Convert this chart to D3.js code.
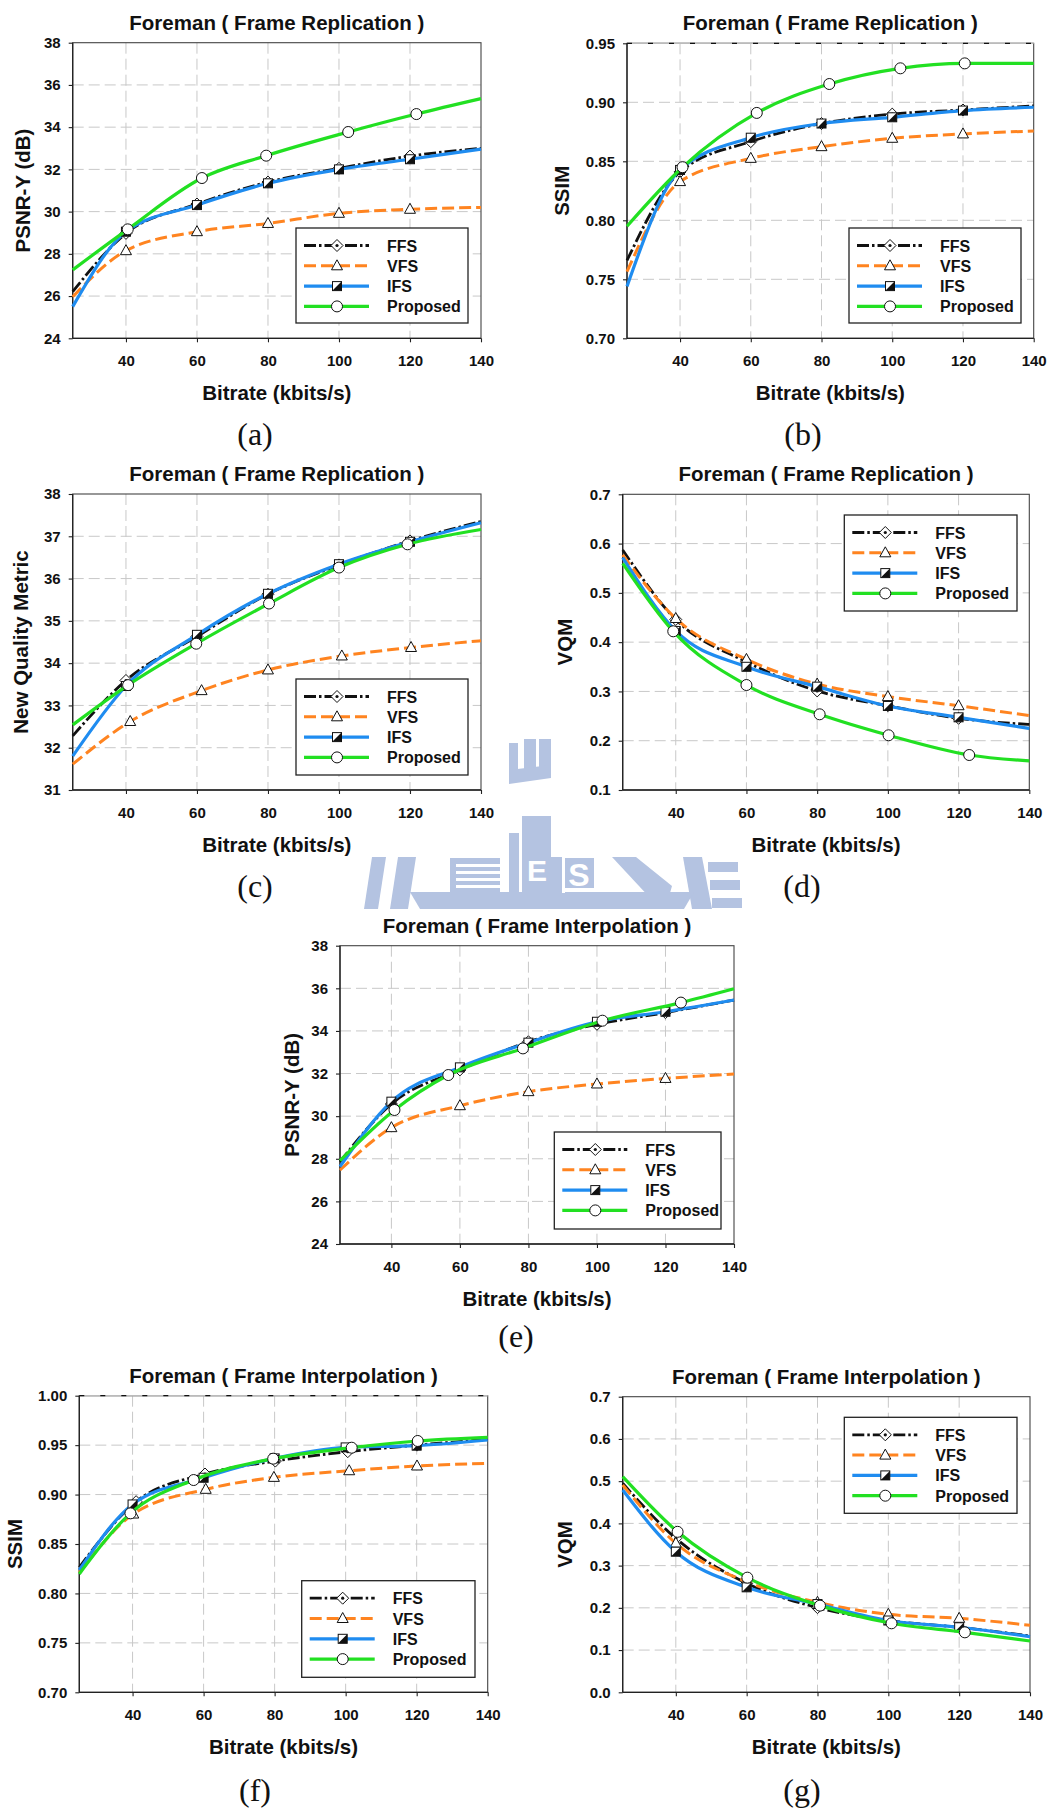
<!DOCTYPE html>
<html>
<head>
<meta charset="utf-8">
<script src="https://cdn.jsdelivr.net/npm/d3@7"></script>
<style>
    body { margin: 0; background: #fff; }
    svg text { font-family: 'Liberation Sans', Arial, sans-serif; }
</style>
</head>
<body>
<svg id="page"></svg>
<script>
// ---- Data ----
const bitrate = [25, 40, 60, 80, 100, 120, 140];
const xTicks = [40, 60, 80, 100, 120, 140];
const seriesNames = ['FFS', 'VFS', 'IFS', 'Proposed'];

// (a) Frame Replication, PSNR-Y
const repPsnrFFS = [26.21, 28.97, 30.36, 31.40, 32.05, 32.63, 33.00];
const repPsnrVFS = [25.97, 28.15, 29.05, 29.44, 29.92, 30.11, 30.20];
const repPsnrIFS = [25.50, 29.05, 30.31, 31.34, 32.00, 32.48, 32.96];
const repPsnrProp = [27.24, 29.16, 31.59, 32.65, 33.77, 34.62, 35.35];
const repPsnrPropX = [25, 40.5, 61.4, 79.5, 102.6, 121.8, 140];

// (b) Frame Replication, SSIM
const repSsimFFS = [0.766, 0.841, 0.8667, 0.882, 0.890, 0.8935, 0.897];
const repSsimVFS = [0.7565, 0.8328, 0.8525, 0.8624, 0.8695, 0.8732, 0.8757];
const repSsimIFS = [0.744, 0.8427, 0.870, 0.882, 0.8873, 0.893, 0.8958];
const repSsimProp = [0.795, 0.845, 0.891, 0.9155, 0.9288, 0.933, 0.933];
const repSsimPropX = [25, 40.7, 61.7, 82.2, 102.3, 120.5, 140];

// (c) Frame Replication, New Quality Metric
const repNqmFFS = [32.28, 33.59, 34.63, 35.63, 36.32, 36.89, 37.35];
const repNqmVFS = [31.61, 32.62, 33.35, 33.84, 34.17, 34.37, 34.53];
const repNqmVFSX = [25, 41.2, 61.3, 80, 100.8, 120.3, 140];
const repNqmIFS = [31.80, 33.46, 34.67, 35.64, 36.34, 36.87, 37.32];
const repNqmProp = [32.54, 33.48, 34.46, 35.41, 36.26, 36.81, 37.16];
const repNqmPropX = [25, 40.6, 59.8, 80.3, 100, 119.3, 140];

// (d) Frame Replication, VQM
const repVqmFFS = [0.587, 0.446, 0.360, 0.301, 0.271, 0.2455, 0.233];
const repVqmVFS = [0.577, 0.448, 0.365, 0.315, 0.2895, 0.271, 0.251];
const repVqmIFS = [0.5716, 0.4227, 0.350, 0.3097, 0.2705, 0.2475, 0.225];
const repVqmProp = [0.560, 0.422, 0.313, 0.2536, 0.211, 0.171, 0.159];
const repVqmPropX = [25, 39.3, 60, 80.7, 100.2, 123, 140];

// (e) Frame Interpolation, PSNR-Y
const intPsnrFFS = [27.86, 30.57, 32.17, 33.49, 34.31, 34.86, 35.45];
const intPsnrVFS = [27.47, 29.46, 30.49, 31.15, 31.51, 31.77, 31.98];
const intPsnrIFS = [27.63, 30.68, 32.29, 33.45, 34.43, 34.90, 35.45];
const intPsnrProp = [27.91, 30.29, 31.93, 33.18, 34.48, 35.33, 35.98];
const intPsnrPropX = [25, 40.9, 56.6, 78.4, 101.6, 124.5, 140];

// (f) Frame Interpolation, SSIM
const intSsimFFS = [0.8264, 0.8928, 0.9208, 0.9339, 0.9434, 0.950, 0.9558];
const intSsimFFSX = [25, 41, 60.4, 80.2, 100.6, 120.1, 140];
const intSsimVFS = [0.821, 0.8803, 0.9053, 0.9174, 0.9241, 0.9289, 0.9316];
const intSsimVFSX = [25, 40.2, 60.6, 79.8, 101, 120.1, 140];
const intSsimIFS = [0.8237, 0.890, 0.917, 0.9366, 0.9477, 0.9495, 0.9552];
const intSsimProp = [0.8197, 0.881, 0.9147, 0.9363, 0.9474, 0.9542, 0.9579];
const intSsimPropX = [25, 39.4, 57.2, 79.6, 101.7, 120.3, 140];

// (g) Frame Interpolation, VQM
const intVqmFFS = [0.495, 0.3646, 0.258, 0.2005, 0.170, 0.154, 0.1334];
const intVqmVFS = [0.491, 0.353, 0.262, 0.2131, 0.1847, 0.1752, 0.1586];
const intVqmIFS = [0.479, 0.333, 0.2486, 0.209, 0.170, 0.154, 0.1318];
const intVqmProp = [0.5107, 0.380, 0.2715, 0.2052, 0.1634, 0.142, 0.1215];
const intVqmPropX = [25, 40.5, 60.2, 80.7, 100.9, 121.6, 140];

// Tick values
const psnrTicks = [24, 26, 28, 30, 32, 34, 36, 38];
const repSsimTicks = [0.70, 0.75, 0.80, 0.85, 0.90, 0.95];
const nqmTicks = [31, 32, 33, 34, 35, 36, 37, 38];
const repVqmTicks = [0.1, 0.2, 0.3, 0.4, 0.5, 0.6, 0.7];
const intSsimTicks = [0.70, 0.75, 0.80, 0.85, 0.90, 0.95, 1.00];
const intVqmTicks = [0.0, 0.1, 0.2, 0.3, 0.4, 0.5, 0.6, 0.7];

// ---- Layout / style config ----
let c = {
    svg: { width: 1052, height: 1809 },
    styles: {
        FFS: { color: '#111', width: 2.8, dash: '12,3,2.5,3', marker: 'diamond' },
        VFS: { color: '#ff8420', width: 3, dash: '12,5', marker: 'triangle' },
        IFS: { color: '#1f8cf0', width: 3.2, dash: null, marker: 'square' },
        Proposed: { color: '#22e022', width: 3.2, dash: null, marker: 'circle' }
    },
    grid: { color: '#c8c8c8', dash: '11,5' },
    watermark: { color: '#b4c3e1' }
};

const repTitle = 'Foreman ( Frame Replication )';
const intTitle = 'Foreman ( Frame Interpolation )';

let charts = [
    {
        title: repTitle, ylabel: 'PSNR-Y (dB)', ticks: psnrTicks, fmt: 'd',
        plot: { left: 72.7, top: 42.7, right: 481, bottom: 338.3 }, ylabelX: 22.7,
        legend: { x: 296, y: 228, w: 172, h: 95 }, caption: { text: '(a)', x: 255, y: 437 },
        series: [[bitrate, repPsnrFFS], [bitrate, repPsnrVFS], [bitrate, repPsnrIFS], [repPsnrPropX, repPsnrProp]]
    },
    {
        title: repTitle, ylabel: 'SSIM', ticks: repSsimTicks, fmt: '.2f', topDashed: true,
        plot: { left: 627, top: 43.3, right: 1033.7, bottom: 338.3 }, ylabelX: 562,
        legend: { x: 849, y: 228, w: 172, h: 95 }, caption: { text: '(b)', x: 803, y: 437 },
        series: [[bitrate, repSsimFFS], [bitrate, repSsimVFS], [bitrate, repSsimIFS], [repSsimPropX, repSsimProp]]
    },
    {
        title: repTitle, ylabel: 'New Quality Metric', ticks: nqmTicks, fmt: 'd',
        plot: { left: 72.7, top: 494, right: 481, bottom: 790 }, ylabelX: 20.7,
        legend: { x: 296, y: 679, w: 172, h: 96 }, caption: { text: '(c)', x: 255, y: 889 },
        series: [[bitrate, repNqmFFS], [repNqmVFSX, repNqmVFS], [bitrate, repNqmIFS], [repNqmPropX, repNqmProp]]
    },
    {
        title: repTitle, ylabel: 'VQM', ticks: repVqmTicks, fmt: '.1f',
        plot: { left: 622.7, top: 494.3, right: 1029.3, bottom: 790 }, ylabelX: 565.3,
        legend: { x: 844.3, y: 515, w: 172.7, h: 96 }, caption: { text: '(d)', x: 802, y: 889 },
        series: [[bitrate, repVqmFFS], [bitrate, repVqmVFS], [bitrate, repVqmIFS], [repVqmPropX, repVqmProp]]
    },
    {
        title: intTitle, ylabel: 'PSNR-Y (dB)', ticks: psnrTicks, fmt: 'd',
        plot: { left: 340, top: 945.7, right: 734, bottom: 1244 }, ylabelX: 291.7,
        legend: { x: 554.3, y: 1132, w: 166.7, h: 97 }, caption: { text: '(e)', x: 516, y: 1339 },
        series: [[bitrate, intPsnrFFS], [bitrate, intPsnrVFS], [bitrate, intPsnrIFS], [intPsnrPropX, intPsnrProp]]
    },
    {
        title: intTitle, ylabel: 'SSIM', ticks: intSsimTicks, fmt: '.2f', topDashed: true,
        plot: { left: 79.3, top: 1395.7, right: 487.7, bottom: 1692.3 }, ylabelX: 15,
        legend: { x: 301.7, y: 1580.7, w: 173.3, h: 96.6 }, caption: { text: '(f)', x: 255, y: 1793 },
        series: [[intSsimFFSX, intSsimFFS], [intSsimVFSX, intSsimVFS], [bitrate, intSsimIFS], [intSsimPropX, intSsimProp]]
    },
    {
        title: intTitle, ylabel: 'VQM', ticks: intVqmTicks, fmt: '.1f',
        plot: { left: 622.7, top: 1396.7, right: 1030, bottom: 1692.3 }, ylabelX: 565.3,
        legend: { x: 844.3, y: 1417.3, w: 172.7, h: 96 }, caption: { text: '(g)', x: 802, y: 1793 },
        series: [[bitrate, intVqmFFS], [bitrate, intVqmVFS], [bitrate, intVqmIFS], [intVqmPropX, intVqmProp]]
    }
];

/**
 * Set up the page svg and draw everything
 */
function prepVis() {
    let svg = d3.select('#page')
        .attr('width', c.svg.width)
        .attr('height', c.svg.height);
    svg.append('rect')
        .attr('width', c.svg.width)
        .attr('height', c.svg.height)
        .attr('fill', '#fff');

    drawWatermark(svg);
    for (let cfg of charts)
        drawChart(svg, cfg);
}

/**
 * The faint university logo that peeks out between the panels
 */
function drawWatermark(svg) {
    let clip = svg.append('defs').append('clipPath').attr('id', 'wm-clip');
    clip.append('rect').attr('x', 506).attr('y', 728).attr('width', 45).attr('height', 132);
    clip.append('rect').attr('x', 350).attr('y', 857).attr('width', 450).attr('height', 52);

    let wm = svg.append('g')
        .attr('clip-path', 'url(#wm-clip)')
        .attr('fill', c.watermark.color);

    // crown
    wm.append('rect').attr('x', 509).attr('y', 743).attr('width', 9).attr('height', 30);
    wm.append('rect').attr('x', 524).attr('y', 739).attr('width', 12).attr('height', 32);
    wm.append('rect').attr('x', 539).attr('y', 739).attr('width', 12).attr('height', 30);
    wm.append('polygon').attr('points', '509,770 551,765 551,778 509,784');
    // building
    wm.append('rect').attr('x', 509).attr('y', 833).attr('width', 10).attr('height', 60);
    wm.append('rect').attr('x', 522).attr('y', 816).attr('width', 40).attr('height', 77);
    // striped block
    wm.append('rect').attr('x', 450).attr('y', 858).attr('width', 50).attr('height', 34);
    // S block
    wm.append('rect').attr('x', 565).attr('y', 858).attr('width', 29).attr('height', 30);
    // A bar
    wm.append('polygon').attr('points', '612,857 636,857 672,886 668,900 652,900');
    // side arcs
    wm.append('polygon').attr('points', '683,857 702,857 712,909 692,909');
    wm.append('rect').attr('x', 708).attr('y', 862).attr('width', 30).attr('height', 10);
    wm.append('rect').attr('x', 710).attr('y', 880).attr('width', 30).attr('height', 10);
    wm.append('rect').attr('x', 712).attr('y', 898).attr('width', 30).attr('height', 10);
    wm.append('polygon').attr('points', '398,857 416,857 408,909 390,909');
    wm.append('polygon').attr('points', '372,857 386,857 378,909 364,909');
    // hull
    wm.append('polygon').attr('points', '410,892 694,892 684,909 420,909');

    // white cut-outs
    let cut = svg.append('g').attr('clip-path', 'url(#wm-clip)').attr('fill', '#fff');
    for (let yy of [864, 871, 878, 885])
        cut.append('rect').attr('x', 456).attr('y', yy).attr('width', 44).attr('height', 3);
    cut.append('text').attr('x', 537).attr('y', 881).attr('text-anchor', 'middle')
        .style('font-size', '30px').style('font-weight', 'bold').text('E');
    cut.append('text').attr('x', 579).attr('y', 886).attr('text-anchor', 'middle')
        .style('font-size', '32px').style('font-weight', 'bold').text('S');
    cut.append('rect').attr('x', 562).attr('y', 816).attr('width', 3).attr('height', 77);
}

/**
 * Draw one marker symbol
 */
function drawMarker(g, type, x, y) {
    let stroke = '#111';
    if (type === 'diamond') {
        g.append('path')
            .attr('d', `M${x},${y - 6}L${x + 6},${y}L${x},${y + 6}L${x - 6},${y}Z`)
            .attr('fill', '#fff').attr('stroke', stroke).attr('stroke-width', 1);
        g.append('circle').attr('cx', x).attr('cy', y).attr('r', 1.6).attr('fill', stroke);
    } else if (type === 'triangle') {
        g.append('path')
            .attr('d', `M${x},${y - 6}L${x + 5.5},${y + 4}L${x - 5.5},${y + 4}Z`)
            .attr('fill', '#fff').attr('stroke', stroke).attr('stroke-width', 1);
    } else if (type === 'square') {
        g.append('rect')
            .attr('x', x - 4.5).attr('y', y - 4.5).attr('width', 9).attr('height', 9)
            .attr('fill', '#fff').attr('stroke', stroke).attr('stroke-width', 1);
        g.append('path')
            .attr('d', `M${x + 4.5},${y - 4.5}L${x + 4.5},${y + 4.5}L${x - 4.5},${y + 4.5}Z`)
            .attr('fill', stroke);
    } else {
        g.append('circle').attr('cx', x).attr('cy', y).attr('r', 5.5)
            .attr('fill', '#fff').attr('stroke', stroke).attr('stroke-width', 1);
    }
}

/**
 * Draw a single panel
 */
function drawChart(svg, cfg) {
    let p = cfg.plot;
    let g = svg.append('g');

    let x = d3.scaleLinear().domain([25, 140]).range([p.left, p.right]);
    let y = d3.scaleLinear().domain(d3.extent(cfg.ticks)).range([p.bottom, p.top]);

    g.append('rect')
        .attr('x', p.left).attr('y', p.top)
        .attr('width', p.right - p.left).attr('height', p.bottom - p.top)
        .attr('fill', '#fff');

    // grid
    g.selectAll('line.vgrid')
        .data(xTicks.filter(d => d < 140))
        .join('line')
        .attr('x1', d => x(d)).attr('x2', d => x(d))
        .attr('y1', p.top).attr('y2', p.bottom)
        .attr('stroke', c.grid.color).attr('stroke-dasharray', c.grid.dash);
    g.selectAll('line.hgrid')
        .data(cfg.ticks.slice(1, -1))
        .join('line')
        .attr('x1', p.left).attr('x2', p.right)
        .attr('y1', d => y(d)).attr('y2', d => y(d))
        .attr('stroke', c.grid.color).attr('stroke-dasharray', c.grid.dash);

    // frame
    g.append('rect')
        .attr('x', p.left).attr('y', p.top)
        .attr('width', p.right - p.left).attr('height', p.bottom - p.top)
        .attr('fill', 'none').attr('stroke', '#444').attr('stroke-width', 1.1);
    if (cfg.topDashed) {
        g.append('line')
            .attr('x1', p.left).attr('x2', p.right).attr('y1', p.top).attr('y2', p.top)
            .attr('stroke', '#bbb').attr('stroke-width', 1.4);
        g.append('line')
            .attr('x1', p.left).attr('x2', p.right).attr('y1', p.top).attr('y2', p.top)
            .attr('stroke', '#111').attr('stroke-width', 1.2).attr('stroke-dasharray', '5,16');
    }
    g.append('line')
        .attr('x1', p.left).attr('x2', p.left).attr('y1', p.top).attr('y2', p.bottom)
        .attr('stroke', '#222').attr('stroke-width', 1.3);
    g.append('line')
        .attr('x1', p.left).attr('x2', p.right).attr('y1', p.bottom).attr('y2', p.bottom)
        .attr('stroke', '#222').attr('stroke-width', 1.3);

    // axes
    let yAxis = d3.axisLeft(y)
        .tickValues(cfg.ticks)
        .tickFormat(d3.format(cfg.fmt))
        .tickSize(4).tickPadding(8);
    let xAxis = d3.axisBottom(x)
        .tickValues(xTicks)
        .tickFormat(d3.format('d'))
        .tickSize(4).tickPadding(13);

    for (let [axis, pos] of [[yAxis, translate(p.left, 0)], [xAxis, translate(0, p.bottom)]]) {
        let a = g.append('g').attr('transform', pos).call(axis);
        a.select('.domain').remove();
        a.selectAll('.tick line').attr('stroke', '#222').attr('stroke-width', 1.1);
        a.selectAll('.tick text')
            .attr('fill', '#111')
            .style('font-size', '15px')
            .style('font-weight', 'bold')
            .style('font-family', "'Liberation Sans', Arial, sans-serif");
    }

    // series
    let line = d3.line()
        .x(d => x(d[0]))
        .y(d => y(d[1]))
        .curve(d3.curveMonotoneX);

    cfg.series.forEach(([xs, ys], i) => {
        let st = c.styles[seriesNames[i]];
        let pts = d3.zip(xs, ys);
        g.append('path')
            .attr('d', line(pts))
            .attr('fill', 'none')
            .attr('stroke', st.color)
            .attr('stroke-width', st.width)
            .attr('stroke-dasharray', st.dash)
            .attr('stroke-linejoin', 'round');
        for (let [px, py] of pts.slice(1, -1))
            drawMarker(g, st.marker, x(px), y(py));
    });

    // legend
    let L = cfg.legend;
    let lg = g.append('g');
    lg.append('rect')
        .attr('x', L.x).attr('y', L.y).attr('width', L.w).attr('height', L.h)
        .attr('fill', '#fff').attr('stroke', '#222').attr('stroke-width', 1.3);
    seriesNames.forEach((name, i) => {
        let st = c.styles[name];
        let ly = L.y + 17.5 + i * 20.3;
        lg.append('line')
            .attr('x1', L.x + 8).attr('x2', L.x + 73)
            .attr('y1', ly).attr('y2', ly)
            .attr('stroke', st.color).attr('stroke-width', st.width)
            .attr('stroke-dasharray', st.dash);
        drawMarker(lg, st.marker, L.x + 41, ly);
        lg.append('text')
            .attr('x', L.x + 91).attr('y', ly + 6)
            .style('font-size', '16px').style('font-weight', 'bold')
            .attr('fill', '#111')
            .text(name);
    });

    // titles
    let cx = (p.left + p.right) / 2;
    g.append('text')
        .attr('x', cx).attr('y', p.top - 20 + 7)
        .attr('text-anchor', 'middle')
        .style('font-size', '20.5px').style('font-weight', 'bold')
        .attr('fill', '#111')
        .text(cfg.title);
    g.append('text')
        .attr('x', cx).attr('y', p.bottom + 54.5 + 7)
        .attr('text-anchor', 'middle')
        .style('font-size', '20.5px').style('font-weight', 'bold')
        .attr('fill', '#111')
        .text('Bitrate (kbits/s)');
    g.append('text')
        .attr('transform', translate(cfg.ylabelX + 7, (p.top + p.bottom) / 2) + ' rotate(-90)')
        .attr('text-anchor', 'middle')
        .style('font-size', '20.5px').style('font-weight', 'bold')
        .attr('fill', '#111')
        .text(cfg.ylabel);

    // caption
    g.append('text')
        .attr('x', cfg.caption.x).attr('y', cfg.caption.y + 8)
        .attr('text-anchor', 'middle')
        .style('font-family', "'Liberation Serif', 'DejaVu Serif', serif")
        .style('font-size', '32px')
        .attr('fill', '#111')
        .text(cfg.caption.text);
}

/**
 * Helper to build translate strings
 */
function translate(x, y) {
    return 'translate(' + x + ',' + y + ')';
}

prepVis();
</script>
</body>
</html>
